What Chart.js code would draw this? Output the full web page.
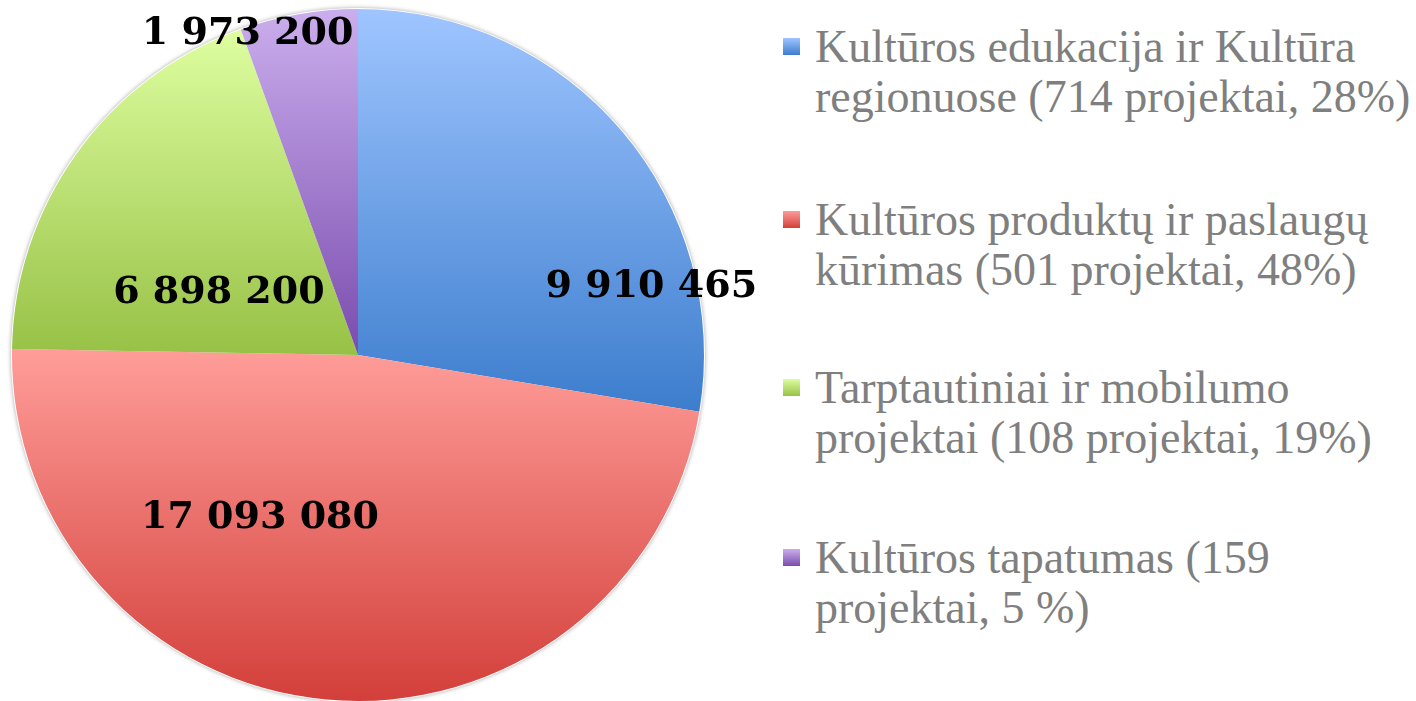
<!DOCTYPE html>
<html>
<head>
<meta charset="utf-8">
<script src="https://cdn.jsdelivr.net/npm/chart.js@4.4.1/dist/chart.umd.min.js"></script>
<style>
  html, body {
    margin: 0;
    padding: 0;
    background: #ffffff;
    width: 1416px;
    height: 701px;
    overflow: hidden;
  }
  #chartBox {
    position: absolute;
    left: 0;
    top: 0;
    width: 780px;
    height: 701px;
  }
  #legend {
    position: absolute;
    left: 783px;
    top: 0;
    font-family: "Liberation Serif", serif;
    font-size: 46px;
    line-height: 50px;
    color: #7f7f7f;
  }
  .legend-item {
    position: absolute;
    left: 0;
    white-space: pre;
  }
  .legend-marker {
    position: absolute;
    left: 0;
    top: 16px;
    width: 17px;
    height: 17px;
  }
  .legend-text {
    position: absolute;
    left: 32px;
    top: 0;
  }
</style>
</head>
<body>
<div id="chartBox"><canvas id="pieChart"></canvas></div>
<div id="legend"></div>

<script>
// Chart data
const categories = [
  "Kultūros edukacija ir Kultūra\nregionuose (714 projektai, 28%)",
  "Kultūros produktų ir paslaugų\nkūrimas (501 projektai, 48%)",
  "Tarptautiniai ir mobilumo\nprojektai (108 projektai, 19%)",
  "Kultūros tapatumas (159\nprojektai, 5 %)",
];
const amounts = [9910465, 17093080, 6898200, 1973200];

// Colours (top / bottom of each slice gradient)
const topColors = ["#9fc5ff", "#ff9d99", "#defea0", "#cbaeed"];
const bottomColors = ["#3c7dcd", "#d33f3a", "#97c146", "#7a4cae"];

// Where the value labels sit: angle from 12 o'clock (deg) and fraction of radius
const labelPlacement = [
  { angle: 77, radius: 0.87 },
  { angle: 211, radius: 0.55 },
  { angle: 294, radius: 0.44 },
  { angle: 341, radius: 0.98 },
];

const total = amounts.reduce((a, b) => a + b, 0);

function formatAmount(value) {
  return String(value).replace(/\B(?=(\d{3})+(?!\d))/g, " ");
}

// vertical extent of a slice, used to stretch its gradient like Office does
function sliceExtent(index, cx, cy, r) {
  let start = 0;
  for (let i = 0; i < index; i++) start += amounts[i] / total;
  const end = start + amounts[index] / total;
  let minY = cy;
  let maxY = cy;
  for (let s = 0; s <= 60; s++) {
    const a = (start + ((end - start) * s) / 60) * Math.PI * 2;
    const y = cy - r * Math.cos(a);
    minY = Math.min(minY, y);
    maxY = Math.max(maxY, y);
  }
  return [minY, maxY];
}

function sliceGradient(context) {
  const chart = context.chart;
  const area = chart.chartArea;
  const i = context.dataIndex;
  if (!area) return topColors[i];
  const cx = (area.left + area.right) / 2;
  const cy = (area.top + area.bottom) / 2;
  const r = Math.min(area.right - area.left, area.bottom - area.top) / 2;
  const [y0, y1] = sliceExtent(i, cx, cy, r);
  const g = chart.ctx.createLinearGradient(0, y0, 0, y1);
  g.addColorStop(0, topColors[i]);
  g.addColorStop(1, bottomColors[i]);
  return g;
}

// soft grey rim round the pie
const pieShadow = {
  id: "pieShadow",
  beforeDatasetsDraw(chart) {
    const meta = chart.getDatasetMeta(0);
    const arc = meta.data[0];
    if (!arc) return;
    const ctx = chart.ctx;
    ctx.save();
    ctx.beginPath();
    ctx.arc(arc.x, arc.y, arc.outerRadius + 1, 0, Math.PI * 2);
    ctx.fillStyle = "#ffffff";
    ctx.shadowColor = "rgba(0,0,0,0.35)";
    ctx.shadowBlur = 4;
    ctx.fill();
    ctx.restore();
  },
};

const valueLabels = {
  id: "valueLabels",
  afterDatasetsDraw(chart) {
    const meta = chart.getDatasetMeta(0);
    const ctx = chart.ctx;
    ctx.save();
    ctx.font = "bold 38px 'DejaVu Serif', serif";
    ctx.fillStyle = "#000000";
    ctx.textAlign = "center";
    ctx.textBaseline = "middle";
    meta.data.forEach((arc, i) => {
      const p = labelPlacement[i];
      const a = (p.angle * Math.PI) / 180;
      const x = arc.x + arc.outerRadius * p.radius * Math.sin(a);
      const y = arc.y - arc.outerRadius * p.radius * Math.cos(a);
      ctx.fillText(formatAmount(amounts[i]), x, y);
    });
    ctx.restore();
  },
};

new Chart(document.getElementById("pieChart").getContext("2d"), {
  type: "pie",
  data: {
    labels: categories,
    datasets: [
      {
        data: amounts,
        backgroundColor: sliceGradient,
        borderWidth: 0,
      },
    ],
  },
  options: {
    responsive: true,
    maintainAspectRatio: false,
    animation: false,
    layout: {
      padding: { top: 9, bottom: 0, left: 12, right: 76 },
    },
    plugins: {
      legend: { display: false },
      tooltip: { enabled: false },
    },
  },
  plugins: [pieShadow, valueLabels],
});

// Legend on the right
const legendTops = [22, 195, 363, 533];
const legendElement = document.getElementById("legend");
categories.forEach((label, i) => {
  const item = document.createElement("div");
  item.className = "legend-item";
  item.style.top = legendTops[i] + "px";
  const marker = document.createElement("div");
  marker.className = "legend-marker";
  marker.style.background =
    "linear-gradient(" + topColors[i] + ", " + bottomColors[i] + ")";
  const text = document.createElement("div");
  text.className = "legend-text";
  text.textContent = label;
  item.appendChild(marker);
  item.appendChild(text);
  legendElement.appendChild(item);
});
</script>
</body>
</html>
